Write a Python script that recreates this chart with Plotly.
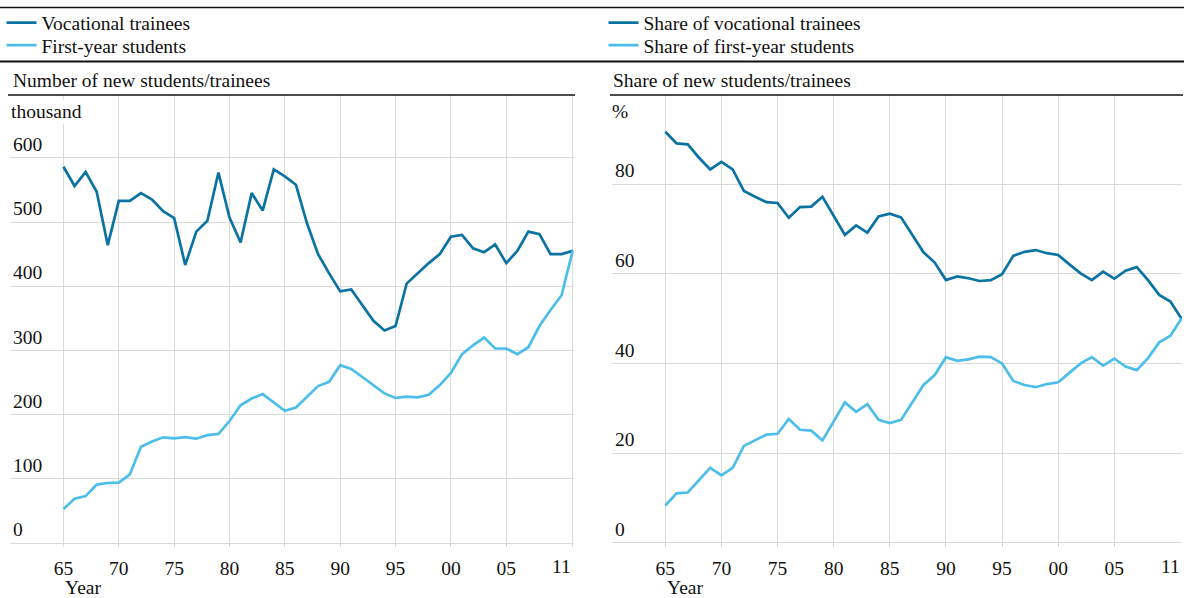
import plotly.graph_objects as go

# ---------------- data ----------------
years = list(range(1965, 2012))

vocational = [586, 556, 578, 547, 464, 533, 533, 545, 535, 517,
              506, 433, 485, 502, 577, 507, 468, 545, 518, 582,
              571, 558, 498, 450, 420, 392, 395, 371, 346, 331,
              338, 404, 420, 436, 450, 477, 480, 459, 453, 465,
              436, 455, 485, 481, 450, 450, 455]

first_year = [53, 69, 73, 91, 93.5, 94, 107, 150, 158, 164.6,
              163, 165, 162.5, 168, 170, 190, 214.5, 225, 232, 219,
              206, 211, 228, 244.5, 251, 277, 271, 258, 246, 233,
              226, 228, 227, 231, 246, 265, 294, 308, 320, 303,
              303, 294, 305, 338, 363, 386, 455]

share_vocational = [91.7, 89.1, 88.9, 85.9, 83.3, 85.0, 83.3, 78.5, 77.2, 76.0,
                    75.8, 72.5, 74.9, 75.0, 77.2, 72.8, 68.7, 70.8, 69.2, 72.8,
                    73.4, 72.6, 68.7, 64.8, 62.5, 58.6, 59.4, 59.0, 58.4, 58.6,
                    59.9, 64.0, 64.9, 65.3, 64.6, 64.2, 62.1, 60.1, 58.6, 60.5,
                    58.9, 60.7, 61.5, 58.6, 55.3, 53.8, 49.9]

share_first_year = [8.3, 11.0, 11.2, 14.0, 16.7, 15.0, 16.7, 21.6, 22.8, 24.1,
                    24.3, 27.6, 25.2, 25.0, 22.8, 27.0, 31.3, 29.2, 30.9, 27.4,
                    26.7, 27.4, 31.3, 35.2, 37.4, 41.4, 40.6, 40.9, 41.5, 41.4,
                    40.0, 36.1, 35.2, 34.7, 35.4, 35.8, 37.9, 40.0, 41.4, 39.5,
                    41.1, 39.3, 38.5, 41.2, 44.7, 46.2, 50.1]

x_tickvals = [1965, 1970, 1975, 1980, 1985, 1990, 1995, 2000, 2005, 2011]
x_ticktext = ["65", "70", "75", "80", "85", "90", "95", "00", "05", ""]
left_yticks = [0, 100, 200, 300, 400, 500, 600]
right_yticks = [0, 20, 40, 60, 80]

# ---------------- style ----------------
W, H = 1184, 598
DARK = "#0b73a3"
LIGHT = "#4dbeea"
GRID = "#dadada"
FONT = "Liberation Serif"
FS = 19.5
TXT = "#111111"


def px(x):
    return x / W


def py(y):
    return 1 - y / H


fig = go.Figure()

fig.add_trace(go.Scatter(x=years, y=vocational, mode="lines", name="Vocational trainees",
                         line=dict(color=DARK, width=2.7), xaxis="x", yaxis="y", legend="legend"))
fig.add_trace(go.Scatter(x=years, y=first_year, mode="lines", name="First-year students",
                         line=dict(color=LIGHT, width=2.7), xaxis="x", yaxis="y", legend="legend2"))
fig.add_trace(go.Scatter(x=years, y=share_vocational, mode="lines", name="Share of vocational trainees",
                         line=dict(color=DARK, width=2.7), xaxis="x2", yaxis="y2", legend="legend3"))
fig.add_trace(go.Scatter(x=years, y=share_first_year, mode="lines", name="Share of first-year students",
                         line=dict(color=LIGHT, width=2.7), xaxis="x2", yaxis="y2", legend="legend4"))

xcommon = dict(tickvals=x_tickvals, ticktext=x_ticktext, showgrid=True, gridcolor=GRID, gridwidth=1,
               zeroline=False, showline=False, ticks="outside", ticklen=4, tickcolor="rgba(0,0,0,0)",
               tickfont=dict(family=FONT, size=FS, color=TXT), automargin=False, fixedrange=True)
ycommon = dict(showgrid=True, gridcolor=GRID, gridwidth=1, zeroline=False, showline=False,
               ticks="", ticklabelposition="inside top",
               tickfont=dict(family=FONT, size=FS, color=TXT), automargin=False, fixedrange=True)

y_dom = [py(547), py(95)]


def leg(x, ytop):
    return dict(x=px(x), y=py(ytop), xanchor="left", yanchor="top", bgcolor="rgba(0,0,0,0)",
                font=dict(family=FONT, size=FS, color=TXT), borderwidth=0)


fig.update_layout(
    width=W, height=H,
    margin=dict(l=0, r=0, t=0, b=0),
    paper_bgcolor="white", plot_bgcolor="white",
    font=dict(family=FONT, size=FS, color=TXT),
    xaxis=dict(domain=[px(10), px(574)], range=[1960.17, 2011.12], anchor="y", **xcommon),
    yaxis=dict(domain=y_dom, range=[-6.2, 697.8], tickvals=left_yticks, anchor="x", **ycommon),
    xaxis2=dict(domain=[px(612), px(1182)], range=[1960.25, 2011.03], anchor="y2", **xcommon),
    yaxis2=dict(domain=y_dom, range=[-0.96, 99.9], tickvals=right_yticks, anchor="x2", **ycommon),
    legend=leg(1.5, 3.5),
    legend2=leg(1.5, 26),
    legend3=leg(603.5, 3.5),
    legend4=leg(603.5, 26),
    showlegend=True,
)

shapes = [
    dict(type="line", xref="paper", yref="paper", x0=0, x1=1, y0=py(7.5), y1=py(7.5),
         line=dict(color="#111111", width=1.5)),
    dict(type="line", xref="paper", yref="paper", x0=0, x1=1, y0=py(61.5), y1=py(61.5),
         line=dict(color="#111111", width=1.8)),
    dict(type="line", xref="paper", yref="paper", x0=px(8), x1=px(575), y0=py(95), y1=py(95),
         line=dict(color="#111111", width=1.6)),
    dict(type="line", xref="paper", yref="paper", x0=px(610), x1=px(1183), y0=py(95), y1=py(95),
         line=dict(color="#111111", width=1.6)),
]
fig.update_layout(shapes=shapes)

ann = []
ann.append(dict(text="Number of new students/trainees", x=px(11), y=py(80), xref="paper", yref="paper",
                xanchor="left", yanchor="middle", showarrow=False, font=dict(family=FONT, size=FS, color=TXT)))
ann.append(dict(text="Share of new students/trainees", x=px(611), y=py(80), xref="paper", yref="paper",
                xanchor="left", yanchor="middle", showarrow=False, font=dict(family=FONT, size=FS, color=TXT)))
ann.append(dict(text="thousand", x=px(9), y=py(112), xref="paper", yref="paper", bgcolor="white",
                xanchor="left", yanchor="middle", showarrow=False, font=dict(family=FONT, size=FS, color=TXT)))
ann.append(dict(text="%", x=px(610), y=py(112), xref="paper", yref="paper",
                xanchor="left", yanchor="middle", showarrow=False, font=dict(family=FONT, size=FS, color=TXT)))
for xr in ("x", "x2"):
    ann.append(dict(text="Year", x=1965, y=py(587), xref=xr, yref="paper",
                    xanchor="left", yanchor="middle", showarrow=False, font=dict(family=FONT, size=FS, color=TXT)))
    ann.append(dict(text="11", x=2011, y=py(566), xref=xr, yref="paper",
                    xanchor="right", yanchor="middle", showarrow=False, font=dict(family=FONT, size=FS, color=TXT)))
fig.update_layout(annotations=ann)

fig.write_html("out.html", config={"displayModeBar": False},
               post_script="document.body.style.margin='0px';")
